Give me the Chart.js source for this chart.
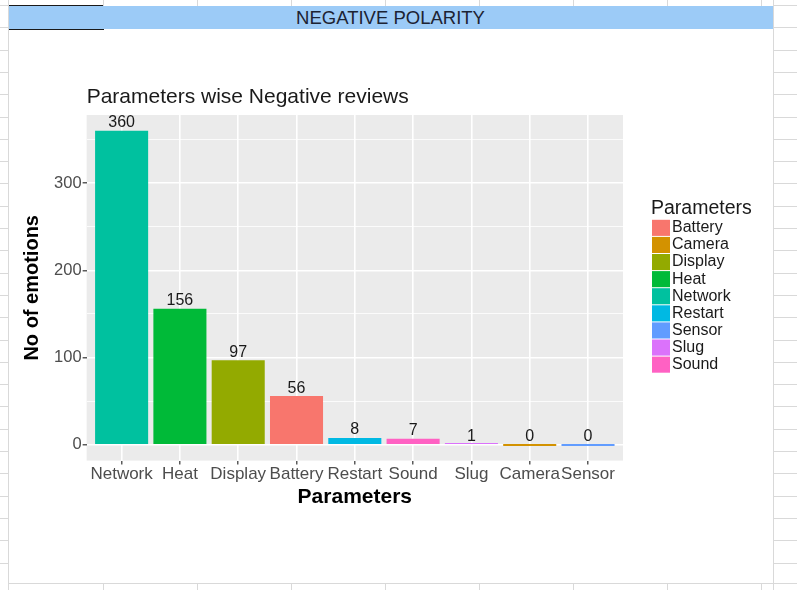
<!DOCTYPE html>
<html>
<head>
<meta charset="utf-8">
<script src="https://cdn.jsdelivr.net/npm/chart.js@4.4.1/dist/chart.umd.min.js"></script>
<style>
  html, body { margin: 0; padding: 0; background: #fff; }
  body { width: 797px; height: 590px; position: relative; overflow: hidden; font-family: "Liberation Sans", Arial, sans-serif; }
  .ln { position: absolute; background: #d9d9d9; }
  #banner { position: absolute; left: 8px; top: 6px; width: 765px; height: 23px; background: #9ccbf7;
            text-align: center; line-height: 24px; font-size: 18.5px; color: #1c2333; }
  #cell { position: absolute; left: 8px; top: 5px; width: 95px; height: 23px; border: 1px solid #1a1a1a; border-right: none; }
  #wrap { position: absolute; left: 8px; top: 40px; width: 765px; height: 490px; }
</style>
</head>
<body>
<div id="banner">NEGATIVE POLARITY</div>
<div id="cell"></div>
<div id="wrap"><canvas id="chart"></canvas></div>
<script>
// negative review counts per parameter, in bar order
const categories = ['Network', 'Heat', 'Display', 'Battery', 'Restart', 'Sound', 'Slug', 'Camera', 'Sensor'];
const counts = [360, 156, 97, 56, 8, 7, 1, 0, 0];

// legend is alphabetical, colours follow the same order
const legendOrder = ['Battery', 'Camera', 'Display', 'Heat', 'Network', 'Restart', 'Sensor', 'Slug', 'Sound'];
const legendColors = ['#F8766D', '#D39200', '#93AA00', '#00BA38', '#00C19F', '#00B9E3', '#619CFF', '#DB72FB', '#FF61C3'];

const yTickValues = [0, 50, 100, 150, 200, 250, 300, 350];
const yLabelled = [0, 100, 200, 300];

const FONT = '"Liberation Sans", Arial, sans-serif';
const colorOf = name => legendColors[legendOrder.indexOf(name)];

// spreadsheet lines around the chart
function line(x, y, w, h) {
    const d = document.createElement('div');
    d.className = 'ln';
    d.style.cssText = `left:${x}px;top:${y}px;width:${w}px;height:${h}px`;
    document.body.appendChild(d);
}
for (let y = 5; y < 583; y += 22.3) {
    line(773, y, 24, 1);
    line(0, y, 8, 1);
}
line(8, 0, 1, 590);
line(773, 0, 1, 590);
line(8, 583, 789, 1);
for (let x = 103; x < 797; x += 94) {
    line(x, 583, 1, 7);
    line(x, 0, 1, 6);
}

Chart.defaults.font.family = FONT;

const panelBg = {
    id: 'panelBg',
    beforeDraw(chart) {
        const { ctx, chartArea: a } = chart;
        ctx.save();
        ctx.fillStyle = '#EBEBEB';
        ctx.fillRect(a.left, a.top, a.right - a.left, a.bottom - a.top);
        ctx.restore();
    }
};

const valueLabels = {
    id: 'valueLabels',
    afterDatasetsDraw(chart) {
        const { ctx, scales: { x, y } } = chart;
        ctx.save();
        ctx.font = `16px ${FONT}`;
        ctx.fillStyle = '#1a1a1a';
        ctx.textAlign = 'center';
        ctx.textBaseline = 'alphabetic';
        counts.forEach((v, i) => {
            ctx.fillText(String(v), x.getPixelForValue(i + 1), y.getPixelForValue(v) - 3.5);
        });
        ctx.restore();
    }
};

const sideLegend = {
    id: 'sideLegend',
    afterDraw(chart) {
        const { ctx, chartArea: a } = chart;
        const x0 = a.right + 29;
        const top = (a.top + a.bottom) / 2 - 68.5;
        const rowH = 17.1;
        ctx.save();
        ctx.textBaseline = 'middle';
        ctx.textAlign = 'left';
        ctx.fillStyle = '#1a1a1a';
        ctx.font = `19.5px ${FONT}`;
        ctx.fillText('Parameters', x0 - 1, top - 11);
        ctx.font = `16px ${FONT}`;
        legendOrder.forEach((name, i) => {
            const y = top + i * rowH;
            ctx.fillStyle = legendColors[i];
            ctx.fillRect(x0, y + 0.5, 18, rowH - 1);
            ctx.fillStyle = '#1a1a1a';
            ctx.fillText(name, x0 + 20, y + rowH / 2);
        });
        ctx.restore();
    }
};

const isMajor = c => c.tick && yLabelled.includes(c.tick.value);

new Chart(document.getElementById('chart'), {
    type: 'bar',
    data: {
        datasets: [{
            label: 'Parameters',
            data: categories.map((c, i) => ({ x: i + 1, y: counts[i] })),
            backgroundColor: categories.map(colorOf),
            borderWidth: 0,
            barPercentage: 0.91,
            categoryPercentage: 1,
            minBarLength: 2
        }]
    },
    options: {
        responsive: true,
        maintainAspectRatio: false,
        animation: false,
        layout: { padding: { top: 40, left: 8.5, right: 150, bottom: 15.8 } },
        plugins: {
            legend: { display: false },
            tooltip: { enabled: false },
            title: {
                display: true,
                text: 'Parameters wise Negative reviews',
                align: 'start',
                fullSize: false,
                color: '#1a1a1a',
                font: { size: 21, weight: 'normal' },
                padding: { top: 4.4, bottom: 5.4 }
            }
        },
        scales: {
            x: {
                type: 'linear',
                min: 0.4,
                max: 9.6,
                offset: false,
                afterBuildTicks: s => { s.ticks = categories.map((c, i) => ({ value: i + 1 })); },
                ticks: {
                    autoSkip: false,
                    maxRotation: 0,
                    padding: 0,
                    color: '#4d4d4d',
                    font: { size: 17 },
                    callback: v => categories[v - 1]
                },
                grid: { offset: false, color: '#ffffff', lineWidth: 1.6, tickColor: '#333333', tickLength: 4, tickWidth: 1.2 },
                border: { display: false },
                title: {
                    display: true,
                    text: 'Parameters',
                    color: '#000',
                    font: { size: 21, weight: 'bold' },
                    padding: { top: 0, bottom: 4 }
                }
            },
            y: {
                min: -18,
                max: 378,
                afterBuildTicks: s => { s.ticks = yTickValues.map(v => ({ value: v })); },
                ticks: {
                    padding: 1,
                    color: '#4d4d4d',
                    font: { size: 16.5 },
                    callback: v => yLabelled.includes(v) ? String(v) : ''
                },
                grid: {
                    color: '#ffffff',
                    lineWidth: c => isMajor(c) ? 1.6 : 0.8,
                    tickColor: c => isMajor(c) ? '#333333' : 'rgba(0,0,0,0)',
                    tickLength: 4,
                    tickWidth: 1.2
                },
                border: { display: false },
                title: {
                    display: true,
                    text: 'No of emotions',
                    color: '#000',
                    font: { size: 20, weight: 'bold' },
                    padding: { top: 3.6, bottom: 9 }
                }
            }
        }
    },
    plugins: [panelBg, valueLabels, sideLegend]
});
</script>
</body>
</html>
